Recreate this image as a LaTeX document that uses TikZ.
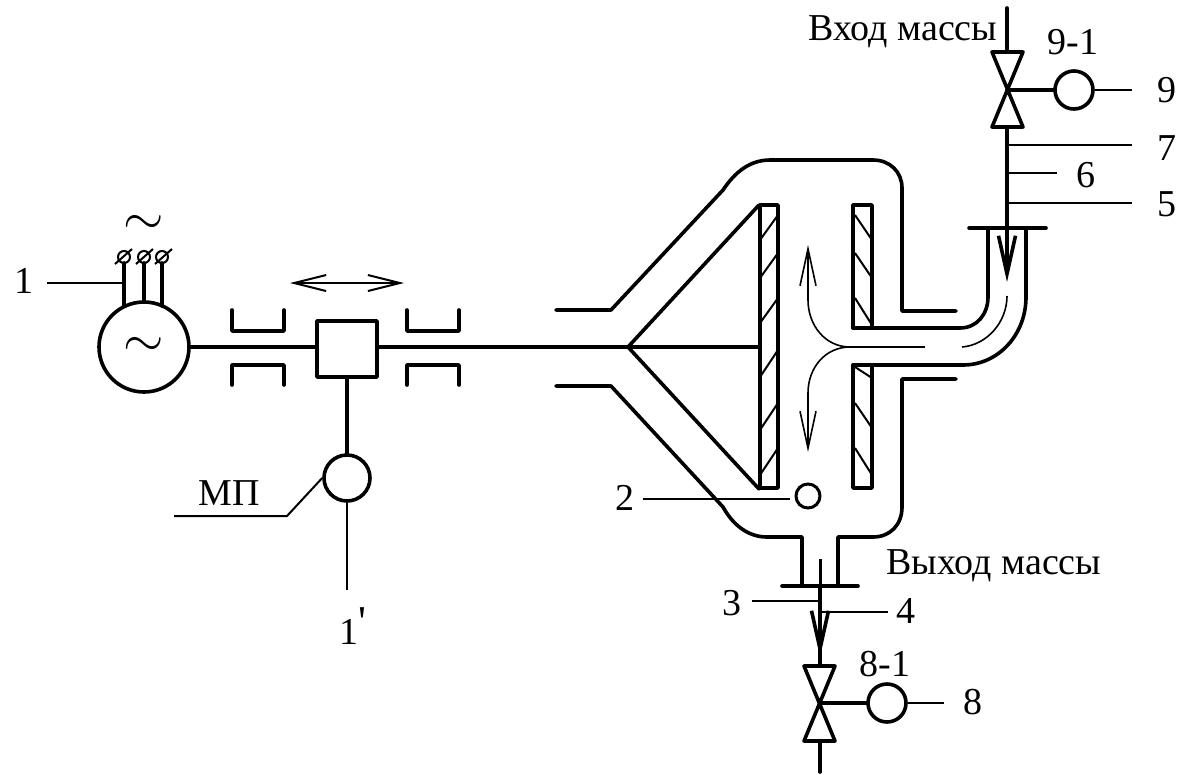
\documentclass[tikz,border=0pt]{standalone}
\usepackage{fontspec}
\setmainfont{Liberation Serif}
\usetikzlibrary{arrows.meta}
\tikzset{
    wall/.style={line width=3.6pt, line cap=round, line join=round},
    thinline/.style={line width=2pt},
    flowline/.style={line width=1.6pt, -{Straight Barb[length=37pt, width=16pt, line width=1.6pt]}},
    gauge/.style={circle, draw, line width=3.6pt, inner sep=0pt, minimum size=38pt},
    lbl/.style={inner sep=0pt, font=\fontsize{38}{38}\selectfont},
}
\begin{document}
\begin{tikzpicture}[x=1pt, y=-1pt]
    \useasboundingbox (0,0) rectangle (1183,774);

    \node[gauge, minimum size=90pt] (motor) at (144,347) {\scalebox{5.2}{$\sim$}};
    \node[inner sep=0pt] (acmark) at (144,225) {\scalebox{5.2}{$\sim$}};
    \draw[wall] (124,263) -- (124,306);
    \draw[wall] (144,263) -- (144,302);
    \draw[wall] (162,263) -- (162,306);
    \draw[thinline] (124,257) circle (6);
    \draw[thinline] (144,257) circle (6);
    \draw[thinline] (162,257) circle (6);
    \draw[thinline] (115,264) -- (132,249);
    \draw[thinline] (136,264) -- (153,249);
    \draw[thinline] (155,264) -- (172,249);
    \node[lbl] (lbl1) at (24,281) {1};
    \coordinate (lead1) at (124,283);
    \draw[thinline] (47,283) -- (lead1);

    \draw[thinline, {Straight Barb[length=32pt, width=16pt, line width=2pt]}-{Straight Barb[length=32pt, width=16pt, line width=2pt]}] (290,283) -- (404,283);
    \draw[wall] (232,310) -- (232,331) -- (284,331) -- (284,310);
    \draw[wall] (232,385) -- (232,365) -- (284,365) -- (284,385);
    \draw[wall] (407,310) -- (407,331) -- (459,331) -- (459,310);
    \draw[wall] (407,385) -- (407,365) -- (459,365) -- (459,385);

    \node[draw, wall, inner sep=0pt, minimum width=60pt, minimum height=56pt] (slider) at (347,349) {};
    \node[gauge, minimum size=46pt] (mpgauge) at (347,478) {};
    \coordinate (shaftend) at (628,347);
    \draw[wall] (motor) -- (slider.west |- motor);
    \draw[wall] (slider.east |- shaftend) -- (shaftend);
    \draw[wall] (slider) -- (mpgauge);
    \coordinate (mpend) at (347,590);
    \draw[thinline] (mpgauge) -- (mpend);
    \node[lbl] (lblmp) at (229,493) {МП};
    \coordinate (mpfoot) at (287,516);
    \draw[thinline] (174,516) -- (mpfoot) -- (mpgauge.west);
    \node[lbl, anchor=base west] (lblone) at (339,644) {1\raisebox{8pt}{\fontsize{44}{44}\selectfont\textquotesingle}};

    \draw[wall] (556,310) -- (611,310) -- (723,190) .. controls (735,172) and (750,160) .. (770,160) -- (873,160) .. controls (890,160) and (902,172) .. (902,188) -- (902,311) -- (956,311);
    \draw[wall] (556,386) -- (611,386) -- (723,507) .. controls (733,525) and (748,537) .. (767,537) -- (802,537) -- (802,586);
    \draw[wall] (956,379) -- (902,379) -- (902,507) .. controls (902,525) and (890,537) .. (873,537) -- (838,537) -- (838,586);
    \draw[wall] (782,586) -- (858,586);
    \draw[wall] (628,347) -- (759,205);
    \draw[wall] (628,347) -- (759,489);
    \draw[wall] (628,347) -- (760,347);

    \draw[wall] (760,205) rectangle (778,488);
    \draw[thinline] (778,215) -- (760,240);
    \draw[thinline] (778,253) -- (760,278);
    \draw[thinline] (778,298) -- (760,323);
    \draw[thinline] (778,350) -- (760,377);
    \draw[thinline] (778,403) -- (760,430);
    \draw[thinline] (778,448) -- (760,475);

    \draw[wall] (853,328) -- (853,205) -- (872,205) -- (872,328);
    \draw[wall] (853,365) -- (853,488) -- (872,488) -- (872,365);
    \draw[thinline] (855,215) -- (872,240);
    \draw[thinline] (855,253) -- (872,278);
    \draw[thinline] (855,298) -- (872,325);
    \draw[thinline] (855,367) -- (872,378);
    \draw[thinline] (855,403) -- (872,428);
    \draw[thinline] (855,448) -- (872,475);

    \draw[wall] (853,328) -- (960,328) .. controls (977,328) and (988,314) .. (988,297) -- (988,228);
    \draw[wall] (853,365) -- (963,365) .. controls (998,365) and (1026,335) .. (1026,297) -- (1026,228);
    \draw[wall] (969,228) -- (1046,228);

    \draw[flowline] (850,347) .. controls (825,347) and (808,325) .. (808,300) -- (808,245);
    \draw[flowline] (850,347) .. controls (825,347) and (808,368) .. (808,393) -- (808,452);
    \draw[thinline] (850,347) -- (925,347);
    \draw[line width=1.6pt] (962,347) .. controls (987,345) and (1007,322) .. (1007,296);

    \node[gauge, minimum size=24pt, line width=3pt] (probe) at (808,496) {};
    \node[lbl] (lbl2) at (625,498) {2};
    \draw[thinline] (643,499) -- (790,499);

    \coordinate (topin) at (1007,8);
    \coordinate (topvalve) at (1007,90);
    \coordinate (toptip) at (1007,282);
    \draw[wall] (topin) -- (1007,52);
    \draw[wall] (992,52) -- (1023,52) -- (992,127) -- (1023,127) -- cycle;
    \draw[wall, -{Straight Barb[length=38pt, width=17pt, line width=3.6pt]}] (1007,127) -- (toptip);
    \node[gauge] (gauge9) at (1074,90) {};
    \draw[wall] (topvalve) -- (gauge9);
    \coordinate (end9) at (1132,90);
    \draw[thinline] (gauge9) -- (end9);
    \node[lbl] (lbl9) at (1167,90) {9};
    \node[lbl] (lbl91) at (1073,42) {9-1};
    \draw[thinline] (1007,145) -- (1132,145);
    \node[lbl] (lbl7) at (1167,148) {7};
    \draw[thinline] (1007,173) -- (1057,173);
    \node[lbl] (lbl6) at (1086,175) {6};
    \draw[thinline] (1007,203) -- (1132,203);
    \node[lbl] (lbl5) at (1167,204) {5};
    \node[lbl, anchor=base west] (lblin) at (808,40) {Вход массы};

    \coordinate (botvalve) at (820,703);
    \coordinate (botend) at (820,772);
    \draw[line width=3pt] (820,559) -- (820,586);
    \draw[wall, -{Straight Barb[length=38pt, width=17pt, line width=3.6pt]}] (820,586) -- (820,657);
    \draw[wall] (820,650) -- (820,666);
    \draw[wall] (804,666) -- (835,666) -- (804,741) -- (835,741) -- cycle;
    \draw[wall] (820,741) -- (botend);
    \node[gauge] (gauge8) at (887,703) {};
    \draw[wall] (botvalve) -- (gauge8);
    \coordinate (end8) at (944,703);
    \draw[thinline] (gauge8) -- (end8);
    \node[lbl] (lbl8) at (973,702) {8};
    \node[lbl] (lbl81) at (885,664) {8-1};
    \draw[thinline] (752,601) -- (820,601);
    \node[lbl] (lbl3) at (732,603) {3};
    \draw[thinline] (820,612) -- (888,612);
    \node[lbl] (lbl4) at (906,611) {4};
    \node[lbl, anchor=base west] (lblout) at (886,574) {Выход массы};
\end{tikzpicture}
\end{document}
